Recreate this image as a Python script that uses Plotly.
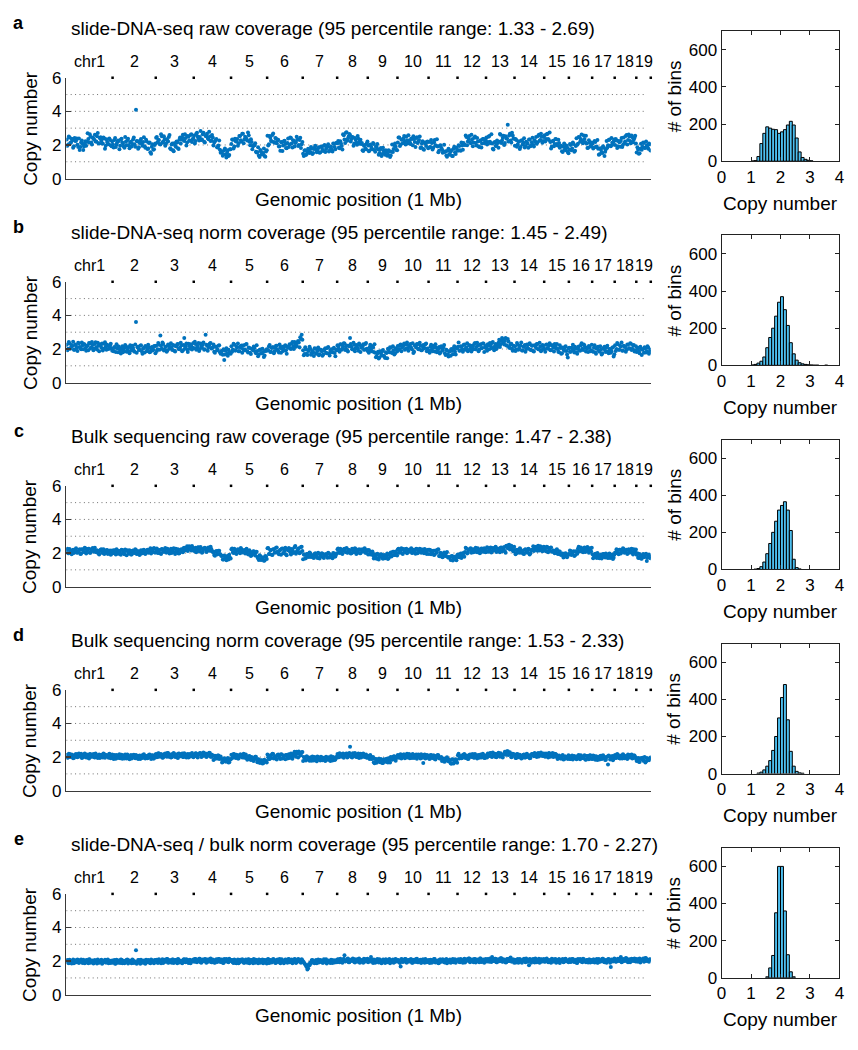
import plotly.graph_objects as go

W, H = 858, 1050

CHROM_LABELS = ["chr1", "2", "3", "4", "5", "6", "7", "8", "9", "10",
                "11", "12", "13", "14", "15", "16", "17", "18", "19"]
CHROM_LEN_MB = [195, 182, 160, 157, 152, 150, 145, 129, 125, 131,
                122, 120, 120, 125, 104, 98, 95, 91, 61]

PANEL_LETTERS = ["a", "b", "c", "d", "e"]
PANEL_TITLES = [
    "slide-DNA-seq raw coverage (95 percentile range: 1.33 - 2.69)",
    "slide-DNA-seq norm coverage (95 percentile range: 1.45 - 2.49)",
    "Bulk sequencing raw coverage (95 percentile range: 1.47 - 2.38)",
    "Bulk sequencing norm coverage (95 percentile range: 1.53 - 2.33)",
    "slide-DNA-seq / bulk norm coverage (95 percentile range: 1.70 - 2.27)",
]

Y_TICKS = [0, 2, 4, 6]
GRID_LEVELS = [1, 2, 3, 4, 5]
HIST_X_TICKS = [0, 1, 2, 3, 4]
HIST_Y_TICKS = [0, 200, 400, 600]

# Copy number x 100, one list per chromosome. Two readings per ~6 Mb window:
# the "_A" lists are the first half of each window, "_B" the second half.
SLIDE_RAW_A = [
    [232,202,245,215,228,193,223,239,188,170,215,206,191,222,219,236,263,214,245,232,221,252,210,240,226,208,239,196,217,204,229,192],
    [202,230,188,216,224,195,237,207,184,219,228,199,214,191,233,204,410,222,186,226,208,218,193,231,176,211,157,190,172,200],
    [243,215,230,203,252,221,236,208,227,248,181,203,169,210,189,215,176,245,232,260,223,241,215,249,227,264,234],
    [257,224,273,238,248,230,264,219,254,267,234,250,227,244,214,230,187,197,171,161,136,168,142,154,134,175],
    [205,231,191,222,236,210,253,221,266,232,243,226,258,198,217,193,199,159,156,138,170,143,152,134,161],
    [255,204,243,221,268,213,239,227,191,165,216,197,225,182,211,188,245,209,228,191,217,234,200,243,204],
    [147,167,140,160,173,158,179,152,184,173,164,187,157,188,164,200,176,191,161,186,171,208,188,211],
    [210,185,222,194,263,233,272,225,250,259,236,246,208,233,201,237,222,206,168,196,179,209],
    [197,167,192,175,205,160,188,175,152,182,146,165,141,160,144,163,138,203,176,209,170],
    [214,244,202,231,239,221,250,209,227,205,236,252,217,242,212,229,182,209,176,215,194,221],
    [218,188,211,183,229,196,191,166,199,174,159,158,138,165,145,160,134,177,157,183],
    [166,194,165,197,211,200,247,221,254,210,234,214,251,197,220,188,228,208,235,213],
    [245,218,254,210,208,173,218,195,211,219,261,226,255,211,239,320,257,227,273,238],
    [196,230,203,221,188,226,213,185,219,207,233,193,216,200,228,247,216,260,229,249,224],
    [258,235,267,229,217,191,225,206,234,197,212,191,162,189,173,197,158],
    [173,200,179,206,166,240,207,246,234,222,257,216,209,183,213,196],
    [208,185,217,191,177,145,171,152,184,160,224,199,232,193,213,220],
    [200,227,192,216,223,188,244,221,259,229,251,210,246,232,255],
    [155,173,150,207,189,212,184,199,177,204],
]
SLIDE_RAW_B = [
    [195,251,212,237,184,242,225,201,238,188,227,170,209,196,269,214,249,202,237,261,220,271,208,246,209,244,177,234,205,239,198,222],
    [185,241,202,227,174,232,215,191,248,198,237,180,219,206,244,189,224,177,212,236,195,246,183,221,179,214,147,204,175,209],
    [247,230,206,263,213,252,195,234,221,259,174,209,162,197,221,180,231,208,246,229,264,197,254,225,259,218,242],
    [209,267,250,226,283,233,272,215,254,241,279,224,259,197,222,236,185,226,153,161,144,179,125,169,140,174],
    [232,179,237,220,196,253,228,267,210,249,236,274,219,234,175,198,210,155,186,128,161,144,179,130,169],
    [197,254,225,259,218,242,210,231,192,217,164,222,205,181,238,203,242,185,224,211,249,194,229,182,217],
    [135,169,146,177,152,188,146,176,195,157,180,153,191,172,195,158,184,204,166,189,161,207,174,212],
    [224,181,208,173,258,212,276,239,265,221,248,196,241,214,253,207,231,211,164,200,175,220],
    [163,202,177,211,170,190,206,141,172,134,183,157,168,136,169,129,159,158,198,189,168],
    [244,194,232,210,253,203,228,258,216,239,199,235,188,246,220,250,187,222,172,208,217,181],
    [187,230,173,216,199,234,157,196,183,153,201,163,130,177,141,168,135,189,146,171],
    [198,168,214,172,201,256,199,237,218,260,192,243,211,242,193,224,185,235,211,230],
    [202,249,219,263,178,214,194,227,183,265,211,243,200,252,238,221,266,215,256,237],
    [236,189,221,176,227,202,240,194,214,183,232,198,243,191,217,207,253,225,266,213,248],
    [221,263,236,274,179,222,193,236,206,231,184,195,158,208,169,187,151],
    [206,169,215,160,194,201,248,219,262,210,235,255,182,228,191,214],
    [179,224,188,229,141,181,156,192,135,175,183,229,196,241,202,232],
    [235,182,224,190,241,201,210,253,202,262,223,257,216,243,208],
    [187,147,177,171,214,182,221,187,209,167],
]

SLIDE_NORM_A = [
    [225,201,233,209,218,195,227,206,237,212,199,222,230,204,217,193,234,210,224,202,240,197,219,228,207,191,231,213,226,200,221,205],
    [193,212,182,205,215,189,202,180,209,217,196,186,222,191,206,184,360,211,194,219,187,203,179,214,198,208,183,212,195,218],
    [219,198,226,280,202,230,195,214,191,221,212,204,224,189,217,228,200,207,222,193,265,215,197,231,202,220,208],
    [205,229,209,235,200,218,226,196,285,223,211,232,203,209,184,213,193,219,180,186,166,135,190,172,195,178],
    [217,197,225,191,209,186,215,221,200,193,227,186,209,178,201,192,206,175,188,167,197,174,182,162,190],
    [191,215,182,206,211,186,220,196,179,209,202,188,217,193,213,215,203,231,214,242,213,240,239,270,285],
    [193,170,197,165,188,201,175,181,204,172,191,163,196,186,168,199,177,206,173,190,182,202,176,195],
    [222,200,228,195,215,232,203,192,219,265,213,198,226,205,220,190,224,207,217,196,229,201],
    [188,210,195,216,182,178,155,183,150,174,187,160,146,176,201,181,208,176,193,173,199],
    [218,200,227,208,222,195,225,204,214,230,198,176,221,209,228,201,219,193,224,206,232,203],
    [190,214,197,218,185,207,192,212,181,204,210,174,195,168,183,160,189,201,183,204],
    [213,189,217,200,224,196,210,187,222,203,220,198,235,212,221,197,228,206,232,211],
    [205,228,198,221,235,208,217,200,226,255,228,265,235,248,222,259,209,227,201,220],
    [217,197,226,204,221,191,213,224,200,208,228,195,219,188,222,206,230,199,215,194,220],
    [198,225,205,219,192,223,208,229,201,201,181,206,175,199,211,188,150],
    [208,184,204,190,213,179,201,193,222,201,227,207,206,182,209,192],
    [186,208,179,202,213,183,197,175,205,191,210,184,200,178,207,155],
    [222,200,228,195,215,190,219,212,197,226,204,231,202,224,193],
    [182,206,174,200,195,178,204,186,208,183],
]
SLIDE_NORM_B = [
    [193,241,201,224,243,196,218,188,232,207,239,199,226,190,221,235,204,242,192,229,210,237,187,223,233,202,240,195,219,206,231,189],
    [186,209,228,181,203,173,217,192,224,184,211,175,206,220,189,227,177,214,195,222,172,208,218,187,225,180,204,191,216,174],
    [188,236,196,219,238,191,213,183,227,202,234,194,221,185,216,230,199,237,187,224,205,232,182,218,228,197,235],
    [243,196,218,188,232,207,239,199,226,190,221,235,204,227,177,214,195,222,172,188,198,167,205,160,184,171],
    [183,231,191,214,233,186,208,178,222,197,229,179,206,170,201,215,184,222,157,194,175,202,152,188,198],
    [192,224,184,211,175,206,220,189,227,177,214,195,222,172,208,228,200,242,200,228,219,248,210,260,255],
    [163,211,171,194,213,166,188,158,202,177,209,169,196,160,191,205,174,212,162,199,180,207,157,193],
    [213,183,227,202,234,194,221,185,216,230,199,237,187,224,205,232,182,218,228,197,235,190],
    [178,226,186,209,228,151,173,143,187,162,194,154,181,145,196,210,179,217,167,204,185],
    [196,223,187,218,232,201,239,189,226,207,234,184,220,230,199,237,192,216,203,228,186,190],
    [178,226,186,209,228,181,203,173,217,192,224,164,191,155,186,200,169,217,167,204],
    [238,191,213,183,227,202,234,194,221,185,216,230,199,237,187,224,205,232,182,218],
    [190,221,235,204,242,192,229,210,237,212,248,258,227,265,220,244,206,231,189,193],
    [188,236,196,219,238,191,213,183,227,202,234,194,221,185,216,230,199,237,187,224,205],
    [183,227,202,234,194,221,185,216,230,184,222,172,209,190,217,167,203],
    [184,207,226,179,201,171,215,190,234,194,221,185,204,218,187,225],
    [184,222,172,209,190,217,167,203,213,182,220,175,199,186,211,169],
    [188,236,196,219,238,191,213,183,227,202,234,194,221,185,216],
    [206,187,214,164,200,210,179,217,172,196],
]

BULK_RAW_A = [
    [218,198,224,205,213,200,221,203,211,223,196,221,206,227,212,225,202,219,230,207,213,217,197,213,222,202,195,210,218,204,215,196],
    [199,216,192,209,214,195,219,202,193,212,217,197,207,191,215,200,218,196,211,194,208,217,198,213,220,205,228,211,224,203],
    [221,201,217,198,224,209,220,203,226,206,214,200,222,205,225,210,197,218,223,204,231,218,240,223,236,215,232],
    [212,232,216,234,209,226,207,229,222,210,233,214,224,210,188,207,191,214,195,183,162,186,171,181,161,172],
    [222,205,225,200,215,220,198,223,208,218,202,212,191,205,187,209,194,204,177,159,183,162,173,155,180],
    [228,195,216,190,222,202,232,207,193,219,225,198,214,191,221,230,204,224,200,235,196,217,229,205,238],
    [163,190,170,195,177,198,181,173,194,187,171,196,179,199,175,188,193,172,197,182,176,200,180,192],
    [222,204,225,200,216,226,206,201,220,214,199,223,208,224,203,218,198,221,210,225,202,217],
    [192,211,195,209,168,187,166,190,177,193,171,184,169,186,165,192,203,185,208,189,198],
    [221,201,216,199,224,206,226,203,214,222,200,219,208,225,198,217,223,204,210,224,202,218],
    [195,217,201,214,192,211,219,182,201,178,195,185,200,176,177,159,183,161,174,157],
    [192,175,197,179,199,206,226,202,220,228,211,204,224,208,229,203,218,225,207,221],
    [208,230,215,233,211,224,231,206,227,217,232,210,226,212,244,229,249,231,230,209],
    [218,198,215,201,223,206,196,220,212,203,222,199,216,240,218,237,213,233,241,220,235],
    [228,211,235,217,231,209,215,198,217,196,209,191,193,173,196,179,188],
    [191,212,196,210,187,207,225,209,233,214,229,206,231,217,228,210],
    [193,175,196,171,187,169,192,178,195,173,189,170,197,179,191,172],
    [203,222,200,219,197,215,224,204,220,198,213,221,201,223,205],
    [190,172,194,168,187,176,192,152,189,178],
]
BULK_RAW_B = [
    [225,198,216,193,220,206,228,201,212,195,223,208,231,197,220,226,201,223,212,232,204,212,192,220,202,222,198,217,195,211,190,215],
    [215,201,223,196,207,190,218,198,221,187,210,216,191,213,202,222,194,209,189,217,199,219,195,214,202,218,197,222,230,203],
    [227,200,218,195,222,208,230,203,214,197,225,205,228,194,217,223,198,220,209,229,217,232,212,240,222,242,218],
    [222,205,233,213,236,202,225,231,206,228,217,237,209,204,184,212,194,214,190,184,162,178,157,182,190,168],
    [227,200,218,195,222,208,230,203,214,197,225,193,216,182,205,211,186,208,167,187,159,174,154,182,164],
    [230,194,218,188,223,205,233,198,213,190,227,201,231,187,217,224,192,220,206,242,206,225,199,236,212],
    [191,168,195,181,203,176,187,170,198,178,201,167,190,196,171,193,182,202,174,189,169,197,179,199],
    [227,200,218,195,222,208,230,203,214,197,225,205,228,194,217,223,198,220,209,229,201,216],
    [218,191,202,185,193,173,196,162,185,191,166,188,177,197,169,184,179,207,189,209,185],
    [225,205,228,194,217,223,198,220,209,229,201,216,196,224,206,226,202,221,199,215,194,219],
    [220,193,211,188,215,201,223,181,192,175,203,183,206,172,175,181,156,178,167,187],
    [176,187,170,198,178,231,197,220,226,201,223,212,232,204,219,199,227,209,229,205],
    [235,208,226,203,230,216,238,211,222,205,233,213,236,202,240,246,221,243,217,237],
    [193,220,206,228,201,212,195,223,203,226,192,215,221,212,234,223,243,215,230,210,238],
    [215,238,204,227,233,208,213,202,222,194,209,189,197,179,199,175,194],
    [215,188,206,183,210,196,238,211,222,205,233,213,236,202,225,231],
    [169,191,180,200,172,187,167,195,177,197,173,192,170,186,165,190],
    [198,216,193,220,206,228,201,212,195,223,203,226,192,215,221],
    [199,171,186,166,194,176,196,172,191,169],
]

BULK_NORM_A = [
    [213,198,218,203,209,195,215,201,217,205,220,197,211,200,216,196,219,204,212,199,221,202,208,195,214,198,217,203,210,196,215,201],
    [195,212,190,207,210,193,214,199,191,208,215,196,204,192,211,198,213,194,206,189,209,212,197,205,193,214,200,210,191,207],
    [218,200,222,204,213,198,219,206,224,202,215,199,220,207,217,197,221,205,212,201,223,203,216,198,219,208,214],
    [206,223,203,216,225,200,219,209,222,204,214,224,202,207,187,204,191,210,194,188,170,193,174,183,168,187],
    [214,198,217,194,209,192,215,203,212,196,216,184,204,187,201,180,195,202,169,186,166,180,163,183,177],
    [215,189,210,194,218,198,191,213,206,188,216,196,207,212,192,217,199,214,207,231,202,221,233,209,228],
    [176,196,180,201,185,198,178,193,200,182,203,187,179,197,192,181,202,184,199,177,195,201,183,194],
    [219,199,216,203,222,207,220,198,214,262,201,223,205,217,200,221,208,197,218,204,213,196],
    [206,188,203,191,169,189,166,184,174,188,165,185,172,190,168,182,201,184,203,187,194],
    [212,196,217,201,215,193,210,198,218,203,194,214,199,216,202,213,192,211,165,215,197,209],
    [192,211,196,209,188,206,213,193,195,176,192,173,189,179,184,164,187,162,170,183],
    [211,191,206,195,214,198,210,189,212,204,217,197,219,200,209,196,216,201,213,194],
    [203,222,206,224,201,216,220,199,218,209,223,205,214,231,214,234,218,218,202,217],
    [213,195,217,200,208,193,214,198,216,202,211,194,218,211,225,206,220,203,223,217,209],
    [205,222,208,224,202,218,200,220,215,189,209,192,207,185,203,200,188],
    [206,189,210,193,201,187,208,191,211,195,204,186,207,192,209,190],
    [188,206,184,202,199,186,208,191,204,183,201,156,205,189,207,193],
    [212,196,214,193,208,191,211,205,194,216,199,213,192,209,200],
    [177,195,171,191,196,180,167,194,182,192],
]
BULK_NORM_B = [
    [196,220,201,216,193,211,218,199,222,204,195,214,221,197,209,192,217,202,219,198,213,194,215,210,200,222,196,212,203,220,193,216],
    [188,206,213,194,217,199,190,209,216,192,204,187,212,197,214,193,208,189,210,205,195,217,191,207,198,215,188,211,191,215],
    [199,223,204,219,196,214,221,202,225,207,198,217,224,200,212,195,220,205,222,201,216,197,218,213,203,225,199],
    [206,221,198,216,223,204,227,209,200,219,226,202,214,183,208,193,210,189,204,167,188,183,173,195,169,185],
    [194,218,199,214,191,209,216,197,220,202,193,199,206,182,194,177,202,187,187,166,181,162,183,178,168],
    [199,189,211,220,191,205,185,215,197,217,192,210,187,213,207,195,221,190,221,210,231,198,226,213,230],
    [201,182,205,187,178,197,204,180,192,175,200,185,202,181,196,177,198,193,183,205,179,195,186,203],
    [199,223,204,219,196,214,221,202,225,207,198,217,224,200,212,195,220,205,222,201,216,197],
    [205,212,188,200,163,188,173,190,169,184,165,186,181,171,193,167,197,188,205,178,201],
    [199,214,191,209,216,197,220,202,193,212,219,195,207,190,215,200,217,196,211,192,213,208],
    [189,213,194,209,186,204,211,192,200,182,173,192,199,175,177,160,185,170,187,166],
    [220,202,193,212,219,195,207,190,215,200,217,196,211,192,213,208,198,220,194,210],
    [198,216,223,204,227,209,200,219,226,202,214,197,222,217,234,213,228,199,220,215],
    [194,218,199,214,191,209,216,197,220,202,193,212,219,205,217,200,225,210,227,206,221],
    [202,214,197,222,207,224,203,218,199,206,201,191,213,187,203,194,211],
    [189,204,185,206,201,191,213,187,203,194,211,184,207,187,211,192],
    [209,190,205,182,200,207,188,211,193,184,203,210,186,198,181,206],
    [195,218,200,191,210,217,193,205,188,213,198,215,194,209,190],
    [191,172,193,188,178,200,174,190,181,198],
]

RATIO_NORM_A = [
    [203,190,208,195,200,187,205,193,207,196,210,189,202,192,206,188,209,195,203,191,201,186,204,194,208,190,200,192,207,188,202,196],
    [191,206,186,201,204,189,208,194,187,203,209,192,199,188,205,193,265,190,207,185,202,199,189,208,194,203,187,205,192,206],
    [207,191,211,195,203,189,208,196,212,192,205,190,210,197,206,188,209,195,202,192,211,194,205,189,208,198,204],
    [196,212,194,206,214,191,209,199,211,194,204,213,193,210,192,207,195,213,198,209,190,212,197,205,193,208],
    [207,192,210,189,203,187,208,197,205,190,209,191,211,194,207,188,202,208,193,209,190,204,188,206,201],
    [210,189,206,192,212,196,190,209,202,188,211,194,204,208,191,212,197,210,193,213,189,205,209,196,211],
    [195,186,172,150,182,191,205,194,188,206,199,192,207,196,190,204,211,193,201,189,207,198,192,205],
    [210,196,214,200,207,235,199,212,193,208,204,216,195,209,198,213,191,206,201,214,197,208],
    [193,207,225,196,209,190,205,198,211,192,203,208,189,206,197,212,194,204,191,209,199],
    [206,194,168,209,197,212,192,205,199,211,190,207,196,213,193,204,208,195,210,191,203,198],
    [195,208,191,205,212,196,203,189,209,199,206,192,213,197,204,190,208,194,211,201],
    [208,195,213,199,206,192,211,203,216,197,209,194,212,200,207,193,215,198,210,204],
    [199,212,196,209,225,201,214,194,208,203,217,198,211,206,193,213,200,221,197,210],
    [208,194,212,199,206,191,210,203,215,196,175,209,198,213,192,207,201,214,195,210,203],
    [196,211,200,207,193,214,198,209,190,205,212,197,208,194,211,199,204],
    [209,195,212,198,205,191,213,200,208,194,211,197,206,192,210,201],
    [195,209,198,213,192,207,201,214,196,204,190,211,199,165,208,203],
    [210,198,214,201,225,196,209,203,216,194,211,200,213,206,199],
    [212,198,215,203,209,196,218,201,207,211],
]
RATIO_NORM_B = [
    [206,188,202,186,209,192,200,210,189,203,195,208,187,205,193,211,190,199,186,207,194,209,191,204,185,201,208,192,210,196,189,203],
    [201,185,208,191,199,209,188,202,194,207,186,204,192,210,189,198,185,206,193,208,190,203,184,200,207,191,209,195,188,202],
    [208,190,204,188,211,194,202,212,191,205,197,210,189,207,195,213,192,201,188,209,196,211,193,206,187,203,210],
    [213,196,204,214,193,207,199,212,191,209,197,215,194,203,190,211,198,213,195,208,189,205,212,196,214,200],
    [207,189,203,187,210,193,201,211,190,204,196,209,188,206,194,212,191,200,187,208,195,210,192,205,186],
    [212,191,205,197,210,189,207,195,213,192,201,188,209,196,211,193,206,187,203,210,194,212,198,191,205],
    [193,180,165,158,176,188,206,192,201,187,209,195,204,190,211,197,186,203,194,208,189,205,199,193],
    [211,193,207,191,214,197,205,215,194,208,200,213,192,210,198,216,195,204,191,212,199,214],
    [205,197,210,189,207,195,213,192,201,188,209,196,211,193,206,187,203,210,194,212,198],
    [205,189,212,195,203,213,192,206,198,211,190,208,196,214,193,202,189,210,197,212,194,207],
    [189,207,195,213,192,201,188,209,196,211,193,206,187,203,210,194,212,198,191,205],
    [211,193,207,191,214,197,205,215,194,208,200,213,192,210,198,216,195,204,191,212],
    [198,206,216,195,209,201,214,193,211,199,217,196,205,192,213,200,215,197,210,191],
    [192,206,190,213,196,204,214,193,207,199,212,191,209,197,215,194,203,190,211,198,213],
    [197,215,194,203,190,211,198,213,195,208,189,205,212,196,214,200,193],
    [211,198,213,195,208,189,205,212,196,214,200,193,207,210,192,206],
    [210,192,206,190,213,196,204,214,193,207,199,212,191,209,197,215],
    [196,210,202,215,194,212,200,218,197,206,193,214,201,216,198],
    [198,211,192,208,215,199,217,203,196,210],
]

# histogram: bin centres (copy number) and counts (# of bins)
HIST_BIN_CENTERS = [1.05, 1.15, 1.25, 1.35, 1.45, 1.55, 1.65, 1.75, 1.85, 1.95,
                    2.05, 2.15, 2.25, 2.35, 2.45, 2.55, 2.65, 2.75, 2.85, 2.95,
                    3.05, 3.15, 3.25, 3.35, 3.45, 3.55, 3.65]
HIST_COUNTS_A = [1, 3, 25, 95, 150, 185, 178, 172, 170, 150,
                 158, 170, 195, 215, 195, 125, 50, 20, 10, 5,
                 2, 0, 0, 0, 0, 0, 0]
HIST_COUNTS_B = [2, 5, 12, 22, 45, 95, 150, 200, 265, 340,
                 370, 300, 215, 122, 62, 28, 14, 8, 5, 3,
                 2, 1, 1, 0, 0, 1, 0]
HIST_COUNTS_C = [0, 2, 5, 15, 40, 85, 140, 200, 260, 320,
                 345, 365, 320, 210, 55, 10, 3, 0, 0, 0,
                 0, 0, 0, 0, 0, 0, 0]
HIST_COUNTS_D = [0, 0, 3, 8, 20, 40, 70, 125, 200, 300,
                 410, 480, 290, 120, 40, 12, 4, 2, 0, 0,
                 0, 0, 0, 0, 0, 0, 0]
HIST_COUNTS_E = [0, 0, 0, 0, 0, 5, 53, 120, 350, 600,
                 600, 360, 124, 32, 5, 0, 0, 0, 0, 0,
                 0, 0, 0, 0, 0, 0, 0]

PANEL_DATA = [(SLIDE_RAW_A, SLIDE_RAW_B), (SLIDE_NORM_A, SLIDE_NORM_B),
              (BULK_RAW_A, BULK_RAW_B), (BULK_NORM_A, BULK_NORM_B),
              (RATIO_NORM_A, RATIO_NORM_B)]
PANEL_HIST = [HIST_COUNTS_A, HIST_COUNTS_B, HIST_COUNTS_C, HIST_COUNTS_D, HIST_COUNTS_E]

# ---------------- layout geometry (pixels) ----------------
FONT = "Liberation Sans, Arial, Helvetica, sans-serif"
BLUE = "#0072BD"
HIST_FILL = "#4DBEEE"
AXIS_COL = "#3a3a3a"

SC_LEFT, SC_RIGHT = 62, 653.4
SC_TOP0, SC_H = 70, 102.7
STEP = 207.8
HI_LEFT, HI_RIGHT = 725, 844.3
HI_TOP0, HI_H = 22.7, 132.3
HSTEP = 207.9

cum_starts = []
acc = 0
for L in CHROM_LEN_MB:
    cum_starts.append(acc)
    acc += L
GENOME_LEN = acc
boundaries = [s + L for s, L in zip(cum_starts, CHROM_LEN_MB)]
centers = [s + L / 2 for s, L in zip(cum_starts, CHROM_LEN_MB)]


def nm(i):
    return "" if i == 1 else str(i)


def px(x):
    return x / W


def py(y):
    return 1 - y / H


fig = go.Figure()
annotations = []
shapes = []
layout_axes = {}

for k in range(5):
    sx = 2 * k + 1
    hx = 2 * k + 2
    xa, ya = "x" + nm(sx), "y" + nm(sx)
    hxa, hya = "x" + nm(hx), "y" + nm(hx)
    top = SC_TOP0 + STEP * k
    htop = HI_TOP0 + HSTEP * k

    xs, ys = [], []
    first, second = PANEL_DATA[k]
    for half, lists in ((0.25, first), (0.75, second)):
        for s, L, vals in zip(cum_starts, CHROM_LEN_MB, lists):
            n = len(vals)
            for i, v in enumerate(vals):
                xs.append(s + (i + half) * L / n)
                ys.append(v / 100.0)

    fig.add_trace(go.Scatter(x=xs, y=ys, mode="markers", xaxis=xa, yaxis=ya,
                             marker=dict(color=BLUE, size=4, line=dict(width=0)),
                             hoverinfo="skip", showlegend=False))
    # chromosome boundary dots along the top edge
    fig.add_trace(go.Scatter(x=boundaries, y=[Y_TICKS[-1]] * len(boundaries), mode="markers",
                             xaxis=xa, yaxis=ya, cliponaxis=False,
                             marker=dict(color="black", size=2.5, symbol="square", line=dict(width=0)),
                             hoverinfo="skip", showlegend=False))
    # histogram bars (empty bins are not drawn)
    hb = [(c, n) for c, n in zip(HIST_BIN_CENTERS, PANEL_HIST[k]) if n > 0]
    fig.add_trace(go.Bar(x=[c for c, _ in hb], y=[n for _, n in hb], width=0.1,
                         xaxis=hxa, yaxis=hya,
                         marker=dict(color=HIST_FILL, line=dict(color="black", width=1)),
                         hoverinfo="skip", showlegend=False))

    layout_axes["xaxis" + nm(sx)] = dict(
        domain=[px(SC_LEFT), px(SC_RIGHT)], range=[0, GENOME_LEN], anchor=ya,
        showticklabels=False, ticks="", showline=True, linecolor=AXIS_COL, linewidth=1.5,
        showgrid=False, zeroline=False, fixedrange=True)
    layout_axes["yaxis" + nm(sx)] = dict(
        domain=[py(top + SC_H), py(top)], range=[0, 6], anchor=xa,
        tickvals=Y_TICKS, ticks="inside", ticklen=5, tickwidth=1.3, tickcolor=AXIS_COL,
        showline=True, linecolor=AXIS_COL, linewidth=1.5, showgrid=False, zeroline=False,
        tickfont=dict(size=17, color="black", family=FONT), fixedrange=True)
    layout_axes["xaxis" + nm(hx)] = dict(
        domain=[px(HI_LEFT), px(HI_RIGHT)], range=[0, 4], anchor=hya,
        tickvals=HIST_X_TICKS, ticks="inside", ticklen=4, tickcolor="#222", mirror="ticks",
        showline=True, linecolor="#222", linewidth=1, showgrid=False, zeroline=False,
        tickfont=dict(size=17, color="black", family=FONT), fixedrange=True)
    layout_axes["yaxis" + nm(hx)] = dict(
        domain=[py(htop + HI_H), py(htop)], range=[0, 700], anchor=hxa,
        tickvals=HIST_Y_TICKS, ticks="inside", ticklen=4, tickcolor="#222", mirror="ticks",
        showline=True, linecolor="#222", linewidth=1, showgrid=False, zeroline=False,
        tickfont=dict(size=17, color="black", family=FONT), fixedrange=True)

    for lv in GRID_LEVELS:
        shapes.append(dict(type="line", xref=xa, yref=ya, x0=0, x1=GENOME_LEN * 0.992, y0=lv, y1=lv,
                           line=dict(color="#707070", width=1, dash="1px,3.4px"), layer="below"))

    # text
    annotations.append(dict(text="<b>" + PANEL_LETTERS[k] + "</b>", xref="paper", yref="paper",
                            x=px(14), y=py(14 + STEP * k), showarrow=False,
                            font=dict(size=18, family=FONT, color="black"),
                            xanchor="center", yanchor="middle"))
    annotations.append(dict(text=PANEL_TITLES[k], xref="paper", yref="paper",
                            x=px(65), y=py(20 + STEP * k), showarrow=False,
                            font=dict(size=19, family=FONT, color="black"),
                            xanchor="left", yanchor="middle"))
    for c, lab in zip(centers, CHROM_LABELS):
        annotations.append(dict(text=lab, xref=xa, yref="paper", x=c, y=py(53.5 + STEP * k),
                                showarrow=False, font=dict(size=16, family=FONT, color="black"),
                                xanchor="center", yanchor="middle"))
    annotations.append(dict(text="Copy number", xref="paper", yref="paper",
                            x=px(25), y=py(top + SC_H / 2), textangle=-90, showarrow=False,
                            font=dict(size=19, family=FONT, color="black"),
                            xanchor="center", yanchor="middle"))
    annotations.append(dict(text="Genomic position (1 Mb)", xref="paper", yref="paper",
                            x=px((SC_LEFT + SC_RIGHT) / 2), y=py(194 + STEP * k), showarrow=False,
                            font=dict(size=19, family=FONT, color="black"),
                            xanchor="center", yanchor="middle"))
    annotations.append(dict(text="# of bins", xref="paper", yref="paper",
                            x=px(677), y=py(htop + HI_H / 2), textangle=-90, showarrow=False,
                            font=dict(size=19, family=FONT, color="black"),
                            xanchor="center", yanchor="middle"))
    annotations.append(dict(text="Copy number", xref="paper", yref="paper",
                            x=px((HI_LEFT + HI_RIGHT) / 2), y=py(198 + HSTEP * k), showarrow=False,
                            font=dict(size=19, family=FONT, color="black"),
                            xanchor="center", yanchor="middle"))

fig.update_layout(
    width=W, height=H, margin=dict(l=0, r=0, t=0, b=0),
    paper_bgcolor="white", plot_bgcolor="white",
    font=dict(family=FONT, color="black"),
    showlegend=False, bargap=0,
    annotations=annotations, shapes=shapes,
    **layout_axes,
)

fig.write_html("out.html",
               config={"displayModeBar": False, "staticPlot": True},
               post_script="document.body.style.margin='0px';document.body.style.overflow='hidden';")
